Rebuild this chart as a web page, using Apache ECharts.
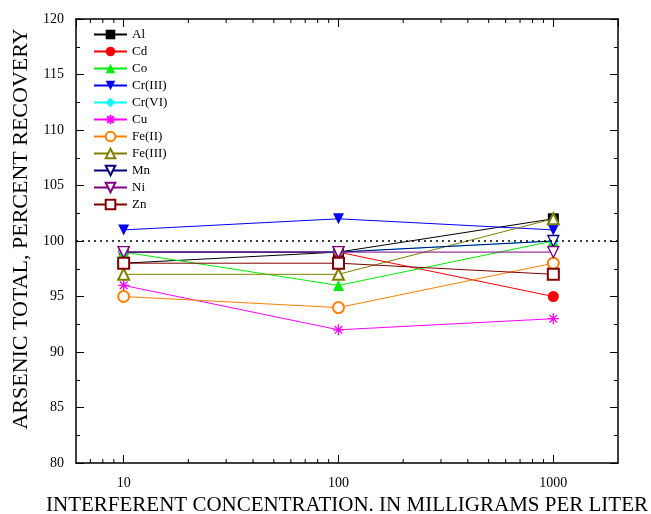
<!DOCTYPE html>
<html>
<head>
<meta charset="utf-8">
<script src="https://cdn.jsdelivr.net/npm/echarts@6/dist/echarts.min.js"></script>
<style>
  html, body { margin: 0; padding: 0; background: #fff; }
  #chart { width: 651px; height: 514px; }
</style>
</head>
<body>
<div id="chart"></div>
<script>
// concentrations, mg/L
const concentrations = [10, 100, 1000];

// percent recovery per interferent
const names = ['Al', 'Cd', 'Co', 'Cr(III)', 'Cr(VI)', 'Cu', 'Fe(II)', 'Fe(III)', 'Mn', 'Ni', 'Zn'];
const alValues = [98, 99, 102];
const cdValues = [99, 99, 95];
const coValues = [99, 96, 100];
const cr3Values = [101, 102, 101];
const cr6Values = [99, 99, 100];
const cuValues = [96, 92, 93];
const fe2Values = [95, 94, 98];
const fe3Values = [97, 97, 102];
const mnValues = [99, 99, 100];
const niValues = [99, 99, 99];
const znValues = [98, 98, 97];

// minor tick positions on the log axis
const minorTicks = [7, 8, 9, 20, 30, 40, 50, 60, 70, 80, 90, 200, 300, 400, 500, 600, 700, 800, 900];

const serif = 'Liberation Serif';
const downTri = 'path://M0,0 L10,0 L5,10 Z';
const star = 'path://M5,0 L5,10 M0,5 L10,5 M1.5,1.5 L8.5,8.5 M8.5,1.5 L1.5,8.5';

const styles = [
  { vals: alValues, color: '#000000', symbol: 'rect', fill: true },
  { vals: cdValues, color: '#ff0000', symbol: 'circle', fill: true },
  { vals: coValues, color: '#00ee00', symbol: 'triangle', fill: true },
  { vals: cr3Values, color: '#0000ff', symbol: downTri, fill: true },
  { vals: cr6Values, color: '#00ffff', symbol: 'diamond', fill: true },
  { vals: cuValues, color: '#ff00ff', symbol: star, fill: true, stroke: true },
  { vals: fe2Values, color: '#ff8000', symbol: 'emptyCircle' },
  { vals: fe3Values, color: '#808000', symbol: 'emptyTriangle' },
  { vals: mnValues, color: '#000080', symbol: downTri, hollow: true },
  { vals: niValues, color: '#800080', symbol: downTri, hollow: true },
  { vals: znValues, color: '#800000', symbol: 'emptyRect' }
];

const chart = echarts.init(document.getElementById('chart'), null, { renderer: 'canvas' });

const series = styles.map(function (s, i) {
  const itemStyle = { color: s.color };
  if (s.hollow) {
    itemStyle.color = '#ffffff';
    itemStyle.borderColor = s.color;
    itemStyle.borderWidth = 1.3;
  } else if (s.stroke) {
    itemStyle.borderColor = s.color;
    itemStyle.borderWidth = 1.3;
  } else if (!s.fill) {
    itemStyle.borderWidth = 1.2;
  }
  const ser = {
    name: names[i],
    type: 'line',
    data: concentrations.map(function (c, j) { return [c, s.vals[j]]; }),
    symbol: s.symbol,
    symbolSize: 11,
    showAllSymbol: true,
    lineStyle: { color: s.color, width: 1 },
    itemStyle: itemStyle,
    animation: false,
    z: 3 + i * 0.01
  };
  if (i === 0) {
    ser.markLine = {
      silent: true,
      symbol: 'none',
      label: { show: false },
      lineStyle: { color: '#000', type: [2, 4], width: 1.5 },
      data: [{ yAxis: 100 }]
    };
  }
  return ser;
});

// minor ticks of the log axes (bottom and top)
series.push({
  type: 'custom',
  silent: true,
  animation: false,
  data: minorTicks.map(function (v) { return [v, 80]; }),
  renderItem: function (params, api) {
    const v = api.value(0);
    const b = api.coord([v, 80]);
    const t = api.coord([v, 120]);
    return {
      type: 'group',
      children: [
        { type: 'line', shape: { x1: b[0], y1: b[1], x2: b[0], y2: b[1] - 4 }, style: { stroke: '#000', lineWidth: 1 } },
        { type: 'line', shape: { x1: t[0], y1: t[1], x2: t[0], y2: t[1] + 4 }, style: { stroke: '#000', lineWidth: 1 } }
      ]
    };
  },
  clip: false,
  z: 10
});

const option = {
  backgroundColor: '#fff',
  animation: false,
  grid: { left: 76, right: 33, top: 19, bottom: 51, outerBoundsMode: 'none', containLabel: false },
  legend: {
    orient: 'vertical',
    left: 88,
    top: 23,
    itemWidth: 33,
    itemHeight: 12,
    itemGap: 4,
    data: names,
    textStyle: { fontFamily: serif, fontSize: 13, color: '#000', lineHeight: 13 }
  },
  xAxis: [
    {
      type: 'log',
      logBase: 10,
      min: 6,
      max: 2000,
      name: 'INTERFERENT CONCENTRATION. IN MILLIGRAMS PER LITER',
      nameLocation: 'middle',
      nameGap: 29,
      nameTextStyle: { fontFamily: serif, fontSize: 21, color: '#000' },
      axisLine: { show: true, onZero: false, lineStyle: { color: '#000', width: 1.5 } },
      axisTick: { show: true, inside: true, length: 8, lineStyle: { color: '#000' } },
      axisLabel: {
        fontFamily: serif, fontSize: 14, color: '#000', margin: 13,
        showMinLabel: false, showMaxLabel: false,
        formatter: function (v) { return [10, 100, 1000].indexOf(Math.round(v)) >= 0 ? String(Math.round(v)) : ''; }
      },
      splitLine: { show: false }
    },
    {
      type: 'log',
      logBase: 10,
      min: 6,
      max: 2000,
      position: 'top',
      axisLine: { show: true, onZero: false, lineStyle: { color: '#000', width: 1.5 } },
      axisTick: { show: true, inside: true, length: 8, lineStyle: { color: '#000' } },
      axisLabel: { show: false },
      splitLine: { show: false }
    }
  ],
  yAxis: [
    {
      type: 'value',
      min: 80,
      max: 120,
      interval: 5,
      name: 'ARSENIC TOTAL, PERCENT RECOVERY',
      nameLocation: 'middle',
      nameGap: 43,
      nameTextStyle: { fontFamily: serif, fontSize: 22, color: '#000', padding: [0, 0, 0, 24] },
      axisLine: { show: true, onZero: false, lineStyle: { color: '#000', width: 1.5 } },
      axisTick: { show: true, inside: true, length: 8, lineStyle: { color: '#000' } },
      minorTick: { show: true, splitNumber: 2, length: 4, lineStyle: { color: '#000' } },
      axisLabel: { fontFamily: serif, fontSize: 14, color: '#000', margin: 12 },
      splitLine: { show: false }
    },
    {
      type: 'value',
      min: 80,
      max: 120,
      interval: 5,
      position: 'right',
      axisLine: { show: true, onZero: false, lineStyle: { color: '#000', width: 1.5 } },
      axisTick: { show: true, inside: true, length: 8, lineStyle: { color: '#000' } },
      minorTick: { show: true, splitNumber: 2, length: 4, lineStyle: { color: '#000' } },
      axisLabel: { show: false },
      splitLine: { show: false }
    }
  ],
  series: series
};

chart.setOption(option);
</script>
</body>
</html>
